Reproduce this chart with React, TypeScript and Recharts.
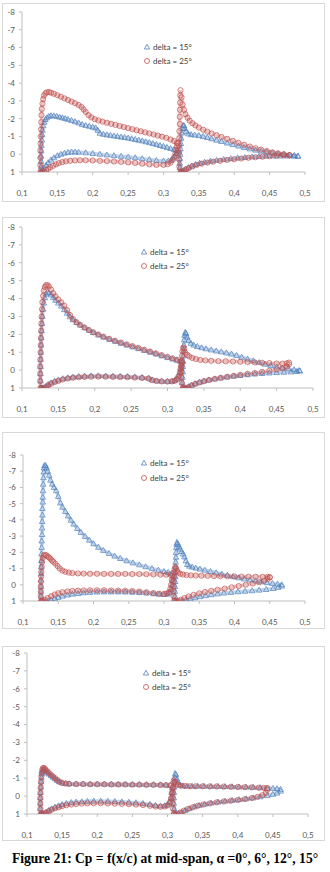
import React from "react";
import { ScatterChart, Scatter, XAxis, YAxis } from "recharts";

type P = [number, number];

// ---------- tick labels ----------
const xTicks = [0.1, 0.15, 0.2, 0.25, 0.3, 0.35, 0.4, 0.45, 0.5];
const yTicks = [-8, -7, -6, -5, -4, -3, -2, -1, 0, 1];
const seriesNames = ["delta = 15°", "delta = 25°"];
const caption = "Figure 21: Cp = f(x/c) at mid-span, α =0°, 6°, 12°, 15°";

// ---------- alpha = 0 ----------
const a0_d15_mainUp: P[] = [[0.127,1.0],[0.127,0.7],[0.127,0.4],[0.127,0.1],[0.1272,-0.2],[0.1275,-0.5],[0.128,-0.8],[0.1285,-1.1],[0.129,-1.35],[0.13,-1.6],[0.1315,-1.8],[0.133,-1.95],[0.135,-2.05],[0.138,-2.13],[0.141,-2.17],[0.145,-2.16],[0.149,-2.13],[0.153,-2.09],[0.157,-2.05],[0.161,-2.01],[0.165,-1.96],[0.17,-1.9],[0.175,-1.83],[0.18,-1.76],[0.185,-1.68],[0.19,-1.62],[0.195,-1.57],[0.2,-1.52],[0.204,-1.48],[0.207,-1.35],[0.21,-1.18],[0.215,-1.12],[0.22,-1.09],[0.225,-1.06],[0.23,-1.03],[0.235,-1.0],[0.24,-0.97],[0.245,-0.94],[0.25,-0.91],[0.255,-0.87],[0.26,-0.83],[0.265,-0.79],[0.27,-0.75],[0.275,-0.7],[0.28,-0.65],[0.285,-0.6],[0.29,-0.55],[0.295,-0.49],[0.3,-0.44],[0.305,-0.38],[0.31,-0.32],[0.315,-0.26],[0.319,-0.21]];
const a0_d15_mainLo: P[] = [[0.128,1.0],[0.129,0.9],[0.131,0.78],[0.134,0.62],[0.137,0.48],[0.141,0.33],[0.145,0.2],[0.15,0.08],[0.155,0.0],[0.16,-0.06],[0.165,-0.1],[0.17,-0.12],[0.175,-0.12],[0.18,-0.11],[0.19,-0.08],[0.2,-0.04],[0.21,0.0],[0.22,0.04],[0.23,0.08],[0.24,0.12],[0.25,0.16],[0.26,0.2],[0.27,0.25],[0.28,0.3],[0.29,0.35],[0.3,0.38],[0.307,0.38],[0.311,0.33],[0.314,0.22],[0.316,0.1],[0.318,-0.04],[0.32,-0.16]];
const a0_d15_flapUp: P[] = [[0.324,1.0],[0.323,0.75],[0.323,0.5],[0.3232,0.25],[0.3235,0.0],[0.324,-0.3],[0.3245,-0.6],[0.325,-0.9],[0.326,-1.2],[0.327,-1.45],[0.328,-1.62],[0.329,-1.6],[0.33,-1.45],[0.332,-1.28],[0.335,-1.15],[0.339,-1.1],[0.344,-1.08],[0.35,-1.05],[0.356,-1.0],[0.362,-0.94],[0.368,-0.87],[0.375,-0.79],[0.382,-0.72],[0.39,-0.63],[0.398,-0.54],[0.406,-0.46],[0.414,-0.38],[0.422,-0.3],[0.43,-0.23],[0.438,-0.17],[0.446,-0.12],[0.454,-0.07],[0.462,-0.03],[0.47,0.0],[0.478,0.04],[0.485,0.07],[0.49,0.1]];
const a0_d15_flapLo: P[] = [[0.324,1.0],[0.326,0.98],[0.328,0.92],[0.331,0.84],[0.335,0.75],[0.34,0.66],[0.345,0.58],[0.351,0.51],[0.358,0.45],[0.366,0.39],[0.375,0.34],[0.385,0.29],[0.395,0.25],[0.405,0.21],[0.415,0.18],[0.425,0.15],[0.435,0.13],[0.445,0.11],[0.455,0.1],[0.465,0.1],[0.475,0.1],[0.484,0.11],[0.49,0.12]];
const a0_d25_mainUp: P[] = [[0.126,1.0],[0.126,0.6],[0.126,0.2],[0.126,-0.2],[0.1262,-0.6],[0.1265,-1.0],[0.127,-1.4],[0.1272,-1.8],[0.1275,-2.2],[0.128,-2.55],[0.129,-2.85],[0.13,-3.1],[0.131,-3.3],[0.133,-3.42],[0.135,-3.48],[0.138,-3.5],[0.141,-3.46],[0.145,-3.4],[0.15,-3.32],[0.155,-3.23],[0.16,-3.14],[0.165,-3.05],[0.17,-2.96],[0.175,-2.87],[0.18,-2.77],[0.184,-2.66],[0.187,-2.52],[0.19,-2.38],[0.194,-2.2],[0.198,-2.07],[0.203,-1.97],[0.208,-1.9],[0.214,-1.83],[0.22,-1.77],[0.226,-1.71],[0.232,-1.65],[0.238,-1.59],[0.244,-1.53],[0.25,-1.47],[0.256,-1.41],[0.262,-1.35],[0.268,-1.29],[0.274,-1.23],[0.28,-1.17],[0.286,-1.11],[0.292,-1.05],[0.298,-0.99],[0.304,-0.92],[0.31,-0.83],[0.315,-0.74],[0.319,-0.64]];
const a0_d25_mainLo: P[] = [[0.127,1.0],[0.129,1.0],[0.131,0.97],[0.134,0.9],[0.137,0.82],[0.14,0.74],[0.144,0.65],[0.148,0.57],[0.152,0.5],[0.157,0.44],[0.162,0.4],[0.168,0.37],[0.175,0.35],[0.182,0.34],[0.19,0.34],[0.2,0.35],[0.21,0.37],[0.22,0.39],[0.23,0.41],[0.24,0.43],[0.25,0.46],[0.26,0.49],[0.27,0.53],[0.28,0.57],[0.29,0.6],[0.3,0.6],[0.306,0.56],[0.31,0.47],[0.313,0.32],[0.315,0.15],[0.317,-0.05],[0.318,-0.25],[0.319,-0.45],[0.32,-0.6]];
const a0_d25_flapUp: P[] = [[0.324,1.0],[0.3225,0.7],[0.322,0.3],[0.322,-0.1],[0.322,-0.5],[0.3222,-0.9],[0.3225,-1.3],[0.323,-1.7],[0.323,-2.1],[0.3232,-2.5],[0.3235,-2.9],[0.3237,-3.3],[0.324,-3.6],[0.3255,-3.2],[0.327,-2.8],[0.329,-2.5],[0.331,-2.25],[0.334,-2.05],[0.337,-1.88],[0.341,-1.74],[0.345,-1.62],[0.35,-1.5],[0.356,-1.38],[0.362,-1.27],[0.368,-1.17],[0.375,-1.07],[0.382,-0.97],[0.39,-0.86],[0.398,-0.75],[0.406,-0.64],[0.414,-0.53],[0.422,-0.43],[0.43,-0.34],[0.438,-0.26],[0.446,-0.18],[0.454,-0.11],[0.462,-0.05],[0.47,0.0],[0.478,0.05]];
const a0_d25_flapLo: P[] = [[0.325,1.0],[0.327,1.0],[0.329,0.95],[0.332,0.86],[0.336,0.77],[0.341,0.68],[0.347,0.6],[0.354,0.53],[0.362,0.47],[0.37,0.42],[0.38,0.37],[0.39,0.32],[0.4,0.28],[0.41,0.24],[0.42,0.2],[0.43,0.17],[0.44,0.14],[0.45,0.11],[0.46,0.09],[0.47,0.07],[0.478,0.06]];

// ---------- alpha = 6 ----------
const a6_d15_mainUp: P[] = [[0.126,1.0],[0.1255,0.6],[0.1255,0.2],[0.1255,-0.2],[0.1257,-0.6],[0.126,-1.0],[0.1262,-1.4],[0.1265,-1.8],[0.127,-2.2],[0.1275,-2.6],[0.128,-3.0],[0.129,-3.4],[0.13,-3.75],[0.1315,-4.05],[0.133,-4.25],[0.135,-4.35],[0.137,-4.32],[0.14,-4.2],[0.143,-4.05],[0.146,-3.9],[0.15,-3.75],[0.154,-3.58],[0.158,-3.38],[0.162,-3.18],[0.166,-2.98],[0.17,-2.82],[0.175,-2.66],[0.18,-2.52],[0.186,-2.37],[0.192,-2.23],[0.198,-2.1],[0.205,-1.97],[0.212,-1.85],[0.22,-1.72],[0.228,-1.61],[0.236,-1.5],[0.244,-1.4],[0.252,-1.3],[0.26,-1.2],[0.268,-1.1],[0.276,-1.0],[0.284,-0.9],[0.292,-0.8],[0.3,-0.7],[0.307,-0.62],[0.313,-0.55],[0.318,-0.48]];
const a6_d15_mainLo: P[] = [[0.1265,1.0],[0.128,1.02],[0.13,0.98],[0.133,0.9],[0.136,0.8],[0.14,0.71],[0.145,0.62],[0.15,0.55],[0.156,0.48],[0.163,0.43],[0.17,0.39],[0.178,0.36],[0.186,0.34],[0.195,0.32],[0.205,0.32],[0.215,0.33],[0.225,0.34],[0.235,0.35],[0.245,0.36],[0.255,0.38],[0.265,0.41],[0.274,0.45],[0.279,0.55],[0.285,0.6],[0.292,0.62],[0.3,0.63],[0.306,0.62],[0.31,0.58],[0.313,0.48],[0.315,0.32],[0.317,0.12],[0.318,-0.1],[0.319,-0.3],[0.32,-0.46]];
const a6_d15_flapUp: P[] = [[0.321,1.0],[0.3205,0.7],[0.3205,0.4],[0.321,0.1],[0.321,-0.2],[0.3215,-0.5],[0.322,-0.8],[0.3222,-1.1],[0.3225,-1.4],[0.323,-1.7],[0.3235,-1.95],[0.3245,-2.1],[0.3255,-2.05],[0.327,-1.85],[0.329,-1.65],[0.332,-1.5],[0.336,-1.4],[0.341,-1.32],[0.347,-1.25],[0.353,-1.19],[0.36,-1.13],[0.367,-1.07],[0.374,-1.02],[0.381,-0.96],[0.388,-0.9],[0.395,-0.82],[0.402,-0.72],[0.41,-0.62],[0.418,-0.52],[0.426,-0.42],[0.434,-0.33],[0.442,-0.25],[0.45,-0.18],[0.458,-0.12],[0.466,-0.07],[0.474,-0.02],[0.481,0.02]];
const a6_d15_flapLo: P[] = [[0.322,1.0],[0.324,1.02],[0.326,1.0],[0.329,0.93],[0.333,0.84],[0.338,0.76],[0.344,0.68],[0.35,0.61],[0.357,0.55],[0.365,0.49],[0.373,0.44],[0.382,0.39],[0.391,0.34],[0.4,0.3],[0.41,0.26],[0.42,0.22],[0.43,0.19],[0.44,0.16],[0.45,0.14],[0.46,0.12],[0.47,0.1],[0.478,0.08],[0.482,0.05]];
const a6_d25_mainUp: P[] = [[0.1255,1.0],[0.125,0.6],[0.125,0.2],[0.125,-0.2],[0.1252,-0.6],[0.1255,-1.0],[0.1258,-1.4],[0.126,-1.8],[0.1263,-2.2],[0.1266,-2.6],[0.127,-3.0],[0.1275,-3.4],[0.128,-3.8],[0.129,-4.15],[0.13,-4.45],[0.1315,-4.65],[0.133,-4.75],[0.135,-4.75],[0.137,-4.68],[0.14,-4.5],[0.143,-4.3],[0.146,-4.12],[0.15,-3.95],[0.154,-3.78],[0.158,-3.6],[0.162,-3.35],[0.166,-3.08],[0.17,-2.86],[0.175,-2.68],[0.18,-2.53],[0.186,-2.38],[0.192,-2.24],[0.198,-2.11],[0.205,-1.99],[0.212,-1.87],[0.22,-1.75],[0.228,-1.64],[0.236,-1.54],[0.244,-1.44],[0.252,-1.34],[0.26,-1.24],[0.268,-1.14],[0.276,-1.04],[0.284,-0.94],[0.292,-0.84],[0.3,-0.74],[0.307,-0.66],[0.313,-0.58],[0.318,-0.5]];
const a6_d25_mainLo: P[] = [[0.1262,1.0],[0.128,1.05],[0.13,1.03],[0.133,0.95],[0.136,0.86],[0.14,0.76],[0.145,0.67],[0.15,0.6],[0.156,0.53],[0.163,0.47],[0.17,0.43],[0.178,0.4],[0.186,0.38],[0.195,0.37],[0.205,0.36],[0.215,0.37],[0.225,0.38],[0.235,0.39],[0.245,0.4],[0.255,0.42],[0.265,0.44],[0.274,0.47],[0.279,0.56],[0.285,0.61],[0.292,0.63],[0.3,0.64],[0.306,0.63],[0.31,0.6],[0.313,0.5],[0.315,0.35],[0.317,0.15],[0.318,-0.05],[0.319,-0.25],[0.32,-0.4]];
const a6_d25_flapUp: P[] = [[0.321,1.0],[0.3195,0.7],[0.319,0.4],[0.319,0.1],[0.319,-0.2],[0.3195,-0.5],[0.32,-0.8],[0.3205,-1.05],[0.3215,-1.25],[0.323,-1.2],[0.3245,-0.98],[0.327,-0.85],[0.33,-0.76],[0.334,-0.68],[0.339,-0.62],[0.345,-0.57],[0.352,-0.54],[0.36,-0.52],[0.37,-0.5],[0.38,-0.49],[0.39,-0.48],[0.4,-0.47],[0.41,-0.45],[0.42,-0.43],[0.43,-0.41],[0.44,-0.39],[0.45,-0.37],[0.458,-0.36],[0.464,-0.38],[0.467,-0.42]];
const a6_d25_flapLo: P[] = [[0.322,1.0],[0.324,1.03],[0.326,1.02],[0.329,0.95],[0.333,0.86],[0.338,0.77],[0.344,0.69],[0.35,0.62],[0.357,0.55],[0.365,0.49],[0.373,0.43],[0.382,0.37],[0.391,0.32],[0.4,0.27],[0.41,0.21],[0.42,0.16],[0.43,0.1],[0.44,0.04],[0.45,-0.03],[0.458,-0.1],[0.464,-0.2],[0.467,-0.32]];

// ---------- alpha = 12 ----------
const a12_d15_mainUp: P[] = [[0.126,1.0],[0.1255,0.7],[0.1255,0.4],[0.1255,0.1],[0.1255,-0.3],[0.1257,-0.7],[0.126,-1.1],[0.126,-1.5],[0.1262,-1.9],[0.1265,-2.3],[0.1265,-2.7],[0.127,-3.1],[0.127,-3.5],[0.1272,-3.9],[0.1275,-4.3],[0.1275,-4.7],[0.128,-5.1],[0.128,-5.4],[0.1283,-5.8],[0.1286,-6.2],[0.129,-6.6],[0.1293,-6.95],[0.1298,-7.2],[0.1305,-7.35],[0.132,-7.35],[0.1335,-7.2],[0.135,-7.0],[0.137,-6.75],[0.139,-6.45],[0.1415,-6.2],[0.144,-6.0],[0.147,-5.8],[0.15,-5.45],[0.153,-5.05],[0.156,-4.78],[0.16,-4.52],[0.164,-4.24],[0.168,-3.98],[0.172,-3.74],[0.177,-3.47],[0.182,-3.23],[0.188,-2.98],[0.194,-2.75],[0.2,-2.53],[0.207,-2.31],[0.214,-2.12],[0.222,-1.93],[0.23,-1.77],[0.238,-1.62],[0.247,-1.48],[0.256,-1.35],[0.265,-1.23],[0.274,-1.11],[0.283,-1.0],[0.292,-0.9],[0.3,-0.82],[0.306,-0.76],[0.311,-0.7]];
const a12_d15_mainLo: P[] = [[0.127,1.0],[0.129,1.05],[0.132,1.05],[0.136,1.0],[0.14,0.94],[0.145,0.86],[0.15,0.78],[0.156,0.7],[0.163,0.63],[0.17,0.58],[0.178,0.54],[0.186,0.5],[0.195,0.47],[0.205,0.45],[0.215,0.44],[0.225,0.44],[0.235,0.44],[0.245,0.45],[0.255,0.46],[0.265,0.48],[0.275,0.51],[0.285,0.55],[0.293,0.58],[0.3,0.6],[0.305,0.58],[0.308,0.5],[0.31,0.3],[0.311,0.0],[0.312,-0.3],[0.313,-0.55]];
const a12_d15_flapUp: P[] = [[0.3165,1.0],[0.3155,0.7],[0.3155,0.4],[0.3155,0.1],[0.3158,-0.2],[0.316,-0.5],[0.316,-0.8],[0.3162,-1.1],[0.3165,-1.4],[0.317,-1.7],[0.3172,-2.0],[0.3175,-2.3],[0.318,-2.5],[0.3185,-2.6],[0.32,-2.5],[0.3215,-2.35],[0.323,-2.2],[0.325,-2.05],[0.327,-1.9],[0.329,-1.72],[0.331,-1.48],[0.333,-1.25],[0.336,-1.15],[0.34,-1.09],[0.345,-1.03],[0.351,-0.97],[0.358,-0.9],[0.366,-0.82],[0.374,-0.74],[0.382,-0.66],[0.39,-0.58],[0.398,-0.5],[0.406,-0.43],[0.414,-0.36],[0.422,-0.3],[0.43,-0.24],[0.438,-0.18],[0.446,-0.13],[0.454,-0.08],[0.461,-0.04],[0.467,0.0]];
const a12_d15_flapLo: P[] = [[0.317,1.0],[0.319,1.05],[0.322,1.05],[0.326,1.0],[0.331,0.94],[0.337,0.87],[0.344,0.8],[0.351,0.73],[0.359,0.67],[0.367,0.61],[0.376,0.56],[0.385,0.51],[0.395,0.47],[0.405,0.43],[0.415,0.4],[0.425,0.37],[0.435,0.33],[0.445,0.29],[0.455,0.23],[0.462,0.16],[0.467,0.08]];
const a12_d25_mainUp: P[] = [[0.1255,1.0],[0.1252,0.7],[0.1252,0.4],[0.1252,0.1],[0.1255,-0.2],[0.1258,-0.5],[0.126,-0.8],[0.1265,-1.1],[0.127,-1.4],[0.128,-1.65],[0.1295,-1.8],[0.131,-1.85],[0.133,-1.82],[0.135,-1.75],[0.137,-1.68],[0.139,-1.6],[0.141,-1.5],[0.143,-1.42],[0.146,-1.3],[0.149,-1.15],[0.152,-1.0],[0.156,-0.88],[0.16,-0.8],[0.165,-0.75],[0.17,-0.72],[0.178,-0.7],[0.186,-0.69],[0.195,-0.68],[0.205,-0.68],[0.215,-0.67],[0.225,-0.67],[0.235,-0.67],[0.245,-0.67],[0.255,-0.66],[0.265,-0.66],[0.275,-0.65],[0.285,-0.64],[0.295,-0.63],[0.303,-0.62],[0.309,-0.62]];
const a12_d25_mainLo: P[] = [[0.1265,1.0],[0.128,1.0],[0.131,0.93],[0.135,0.82],[0.14,0.7],[0.145,0.6],[0.15,0.52],[0.156,0.46],[0.163,0.41],[0.17,0.38],[0.178,0.36],[0.186,0.35],[0.195,0.34],[0.205,0.34],[0.215,0.34],[0.225,0.35],[0.235,0.36],[0.245,0.37],[0.255,0.39],[0.265,0.42],[0.275,0.46],[0.285,0.51],[0.293,0.55],[0.3,0.56],[0.304,0.54],[0.307,0.45],[0.309,0.25],[0.31,0.0],[0.311,-0.3],[0.312,-0.55]];
const a12_d25_flapUp: P[] = [[0.3145,1.0],[0.3135,0.7],[0.3133,0.4],[0.3133,0.1],[0.3135,-0.2],[0.314,-0.5],[0.3145,-0.75],[0.315,-0.95],[0.316,-1.1],[0.3172,-1.0],[0.3185,-0.85],[0.32,-0.75],[0.323,-0.68],[0.327,-0.63],[0.332,-0.6],[0.338,-0.58],[0.345,-0.57],[0.353,-0.56],[0.362,-0.55],[0.371,-0.54],[0.38,-0.53],[0.39,-0.52],[0.4,-0.51],[0.41,-0.5],[0.42,-0.5],[0.43,-0.49],[0.44,-0.49],[0.447,-0.49],[0.45,-0.47]];
const a12_d25_flapLo: P[] = [[0.315,1.0],[0.317,1.03],[0.32,1.0],[0.324,0.92],[0.329,0.82],[0.335,0.72],[0.342,0.62],[0.35,0.53],[0.358,0.45],[0.367,0.38],[0.376,0.31],[0.386,0.24],[0.396,0.16],[0.406,0.08],[0.416,0.0],[0.426,-0.08],[0.435,-0.16],[0.442,-0.25],[0.447,-0.36],[0.45,-0.45]];

// ---------- alpha = 15 ----------
const a15_d15_mainUp: P[] = [[0.1195,1.0],[0.119,0.7],[0.119,0.4],[0.119,0.1],[0.1192,-0.2],[0.1195,-0.5],[0.12,-0.8],[0.1205,-1.05],[0.121,-1.25],[0.1215,-1.38],[0.1225,-1.46],[0.1235,-1.48],[0.125,-1.45],[0.127,-1.38],[0.129,-1.31],[0.131,-1.24],[0.134,-1.15],[0.137,-1.06],[0.14,-0.97],[0.143,-0.88],[0.146,-0.8],[0.15,-0.74],[0.155,-0.71],[0.16,-0.69],[0.17,-0.68],[0.18,-0.68],[0.19,-0.67],[0.2,-0.67],[0.21,-0.67],[0.22,-0.66],[0.23,-0.66],[0.24,-0.66],[0.25,-0.65],[0.26,-0.65],[0.27,-0.64],[0.28,-0.64],[0.29,-0.63],[0.298,-0.62],[0.304,-0.61]];
const a15_d15_mainLo: P[] = [[0.1205,1.0],[0.122,1.02],[0.124,0.98],[0.127,0.9],[0.131,0.8],[0.135,0.71],[0.14,0.62],[0.145,0.54],[0.15,0.47],[0.156,0.41],[0.163,0.36],[0.17,0.33],[0.178,0.31],[0.186,0.29],[0.195,0.28],[0.205,0.28],[0.215,0.29],[0.225,0.3],[0.235,0.32],[0.245,0.34],[0.255,0.37],[0.265,0.41],[0.275,0.46],[0.283,0.52],[0.29,0.55],[0.296,0.54],[0.3,0.48],[0.303,0.33],[0.305,0.1],[0.306,-0.2],[0.307,-0.45]];
const a15_d15_flapUp: P[] = [[0.3105,1.0],[0.3095,0.7],[0.309,0.4],[0.309,0.1],[0.3092,-0.2],[0.3095,-0.5],[0.31,-0.8],[0.3105,-1.05],[0.311,-1.25],[0.312,-1.2],[0.3135,-0.95],[0.315,-0.75],[0.318,-0.63],[0.322,-0.58],[0.328,-0.56],[0.335,-0.55],[0.343,-0.55],[0.352,-0.55],[0.362,-0.54],[0.372,-0.54],[0.382,-0.53],[0.392,-0.52],[0.402,-0.51],[0.412,-0.5],[0.422,-0.49],[0.432,-0.47],[0.442,-0.45],[0.45,-0.43],[0.456,-0.41],[0.461,-0.38]];
const a15_d15_flapLo: P[] = [[0.311,1.0],[0.313,1.03],[0.316,0.98],[0.32,0.9],[0.325,0.8],[0.331,0.7],[0.338,0.6],[0.345,0.52],[0.353,0.45],[0.362,0.39],[0.372,0.33],[0.382,0.28],[0.392,0.24],[0.402,0.2],[0.412,0.15],[0.422,0.1],[0.432,0.04],[0.442,-0.03],[0.45,-0.1],[0.456,-0.17],[0.461,-0.28]];
const a15_d25_mainUp: P[] = [[0.1195,1.0],[0.119,0.7],[0.119,0.4],[0.119,0.1],[0.1192,-0.2],[0.1195,-0.5],[0.12,-0.8],[0.1205,-1.1],[0.121,-1.32],[0.1218,-1.48],[0.1228,-1.56],[0.124,-1.58],[0.1255,-1.52],[0.127,-1.45],[0.129,-1.38],[0.131,-1.3],[0.134,-1.2],[0.137,-1.1],[0.14,-1.0],[0.143,-0.9],[0.146,-0.81],[0.15,-0.74],[0.155,-0.7],[0.16,-0.68],[0.17,-0.67],[0.18,-0.67],[0.19,-0.66],[0.2,-0.66],[0.21,-0.66],[0.22,-0.65],[0.23,-0.65],[0.24,-0.65],[0.25,-0.64],[0.26,-0.64],[0.27,-0.63],[0.28,-0.63],[0.29,-0.62],[0.298,-0.61],[0.304,-0.6]];
const a15_d25_mainLo: P[] = [[0.1205,1.0],[0.122,1.02],[0.124,1.0],[0.127,0.93],[0.131,0.84],[0.135,0.76],[0.14,0.68],[0.145,0.62],[0.15,0.56],[0.156,0.51],[0.163,0.47],[0.17,0.44],[0.178,0.42],[0.186,0.41],[0.195,0.4],[0.205,0.4],[0.215,0.41],[0.225,0.42],[0.235,0.43],[0.245,0.45],[0.255,0.47],[0.265,0.5],[0.275,0.54],[0.283,0.58],[0.29,0.6],[0.296,0.58],[0.3,0.52],[0.303,0.37],[0.305,0.12],[0.306,-0.18],[0.307,-0.45]];
const a15_d25_flapUp: P[] = [[0.309,1.0],[0.3078,0.7],[0.3073,0.4],[0.3073,0.1],[0.3075,-0.2],[0.308,-0.5],[0.3085,-0.75],[0.309,-0.88],[0.3105,-0.8],[0.312,-0.7],[0.315,-0.62],[0.319,-0.58],[0.325,-0.56],[0.332,-0.55],[0.34,-0.55],[0.35,-0.55],[0.36,-0.54],[0.37,-0.54],[0.38,-0.53],[0.39,-0.52],[0.4,-0.51],[0.41,-0.5],[0.42,-0.49],[0.43,-0.47],[0.437,-0.46],[0.442,-0.45]];
const a15_d25_flapLo: P[] = [[0.3095,1.0],[0.3115,1.03],[0.3145,1.0],[0.318,0.92],[0.323,0.82],[0.329,0.72],[0.336,0.62],[0.343,0.54],[0.351,0.47],[0.36,0.41],[0.37,0.35],[0.38,0.3],[0.39,0.26],[0.4,0.22],[0.41,0.17],[0.42,0.11],[0.428,0.04],[0.435,-0.05],[0.44,-0.18],[0.442,-0.35]];

// ---------- rendering ----------
const BLUE = "#4F81BD";
const RED = "#C0504D";
const FONT = "Lato, 'Open Sans', sans-serif";

const toObj = (arr: P[]) => arr.map(([x, y]) => ({ x, y }));

const Tri = (p: any) => {
  const { cx, cy } = p;
  if (cx == null || cy == null) return <g />;
  return (
    <path
      d={`M${cx},${cy - 3}L${cx + 2.8},${cy + 2}L${cx - 2.8},${cy + 2}Z`}
      fill="none"
      stroke={BLUE}
      strokeOpacity={0.8}
      strokeWidth={0.9}
    />
  );
};
const Circ = (p: any) => {
  const { cx, cy } = p;
  if (cx == null || cy == null) return <g />;
  return <circle cx={cx} cy={cy} r={2.6} fill="none" stroke={RED} strokeOpacity={0.8} strokeWidth={0.9} />;
};

type Geo = {
  boxTop: number; boxH: number;
  pl: number; pr: number; pt: number; pb: number;
  legX: number; legY1: number; legY2: number;
};

const panels: { geo: Geo; d15: P[][]; d25: P[][] }[] = [
  { geo: { boxTop: 3, boxH: 199, pl: 22, pr: 305, pt: 12, pb: 172, legX: 147, legY1: 47, legY2: 61 },
    d15: [a0_d15_mainUp, a0_d15_mainLo, a0_d15_flapUp, a0_d15_flapLo],
    d25: [a0_d25_mainUp, a0_d25_mainLo, a0_d25_flapUp, a0_d25_flapLo] },
  { geo: { boxTop: 217, boxH: 201, pl: 22, pr: 313, pt: 227, pb: 388, legX: 144, legY1: 252, legY2: 266 },
    d15: [a6_d15_mainUp, a6_d15_mainLo, a6_d15_flapUp, a6_d15_flapLo],
    d25: [a6_d25_mainUp, a6_d25_mainLo, a6_d25_flapUp, a6_d25_flapLo] },
  { geo: { boxTop: 432, boxH: 197, pl: 23, pr: 305, pt: 455, pb: 601, legX: 144, legY1: 463, legY2: 478 },
    d15: [a12_d15_mainUp, a12_d15_mainLo, a12_d15_flapUp, a12_d15_flapLo],
    d25: [a12_d25_mainUp, a12_d25_mainLo, a12_d25_flapUp, a12_d25_flapLo] },
  { geo: { boxTop: 646, boxH: 195, pl: 27, pr: 308, pt: 653, pb: 814, legX: 146, legY1: 673, legY2: 687 },
    d15: [a15_d15_mainUp, a15_d15_mainLo, a15_d15_flapUp, a15_d15_flapLo],
    d25: [a15_d25_mainUp, a15_d25_mainLo, a15_d25_flapUp, a15_d25_flapLo] },
];

const fmtX = (v: number) => String(v).replace(".", ",");

function Panel({ geo, d15, d25 }: { geo: Geo; d15: P[][]; d25: P[][] }) {
  const topPad = 10;
  const xAxisH = 25;
  const chartTop = geo.pt - topPad;
  const chartH = geo.pb - geo.pt + topPad + xAxisH + 2;
  const tick = { fontSize: 8, fill: "#595959", fontFamily: FONT };
  return (
    <>
      <div
        style={{
          position: "absolute", left: 2, top: geo.boxTop, width: 323, height: geo.boxH,
          border: "1px solid #d9d9d9", boxSizing: "border-box", background: "#fff",
        }}
      />
      <div style={{ position: "absolute", left: 0, top: chartTop }}>
        <ScatterChart
          width={330}
          height={chartH}
          margin={{ top: topPad, right: 330 - geo.pr, left: 0, bottom: 2 }}
        >
          <XAxis
            type="number" dataKey="x" domain={[0.1, 0.5]} ticks={xTicks}
            allowDataOverflow tickFormatter={fmtX} height={xAxisH}
            stroke="#bfbfbf" tickSize={3} tickMargin={15} tick={tick}
            interval={0}
          />
          <YAxis
            type="number" dataKey="y" domain={[-8, 1]} ticks={yTicks} reversed
            allowDataOverflow width={geo.pl} stroke="#bfbfbf" tickSize={3}
            tickMargin={4} tick={tick} interval={0}
          />
          {d15.map((seg, i) => (
            <Scatter key={"b" + i} data={toObj(seg)} shape={Tri} isAnimationActive={false}
              line={{ stroke: BLUE, strokeWidth: 3.5, strokeOpacity: 0.35 }} />
          ))}
          {d25.map((seg, i) => (
            <Scatter key={"r" + i} data={toObj(seg)} shape={Circ} isAnimationActive={false}
              line={{ stroke: RED, strokeWidth: 3.5, strokeOpacity: 0.35 }} />
          ))}
        </ScatterChart>
      </div>
      <div style={{ position: "absolute", left: geo.legX - 4, top: geo.legY1 - 6, fontFamily: FONT, fontSize: 8, color: "#404040", lineHeight: "12px" }}>
        {seriesNames.map((name, i) => (
          <div key={name} style={{ display: "flex", alignItems: "center", height: 12, marginBottom: i === 0 ? (geo.legY2 - geo.legY1 - 12) : 0 }}>
            <svg width={8} height={8} style={{ marginRight: 2 }}>
              {i === 0 ? (
                <path d="M4,1.2L6.6,6L1.4,6Z" fill="none" stroke={BLUE} strokeWidth={0.8} />
              ) : (
                <circle cx={4} cy={4} r={2.5} fill="none" stroke={RED} strokeWidth={0.8} />
              )}
            </svg>
            <span>{name}</span>
          </div>
        ))}
      </div>
    </>
  );
}

export default function App() {
  return (
    <div style={{ position: "absolute", left: 0, top: 0, width: 330, height: 872, background: "#fff", overflow: "hidden" }}>
      {panels.map((p, i) => (
        <Panel key={i} geo={p.geo} d15={p.d15} d25={p.d25} />
      ))}
      <div
        style={{
          position: "absolute", left: 0, top: 850, width: 330, textAlign: "center",
          fontFamily: "'Liberation Serif', 'Times New Roman', serif", fontWeight: "bold",
          fontSize: 13.6, lineHeight: "18px", color: "#000", whiteSpace: "nowrap",
        }}
      >
        {caption}
      </div>
    </div>
  );
}
